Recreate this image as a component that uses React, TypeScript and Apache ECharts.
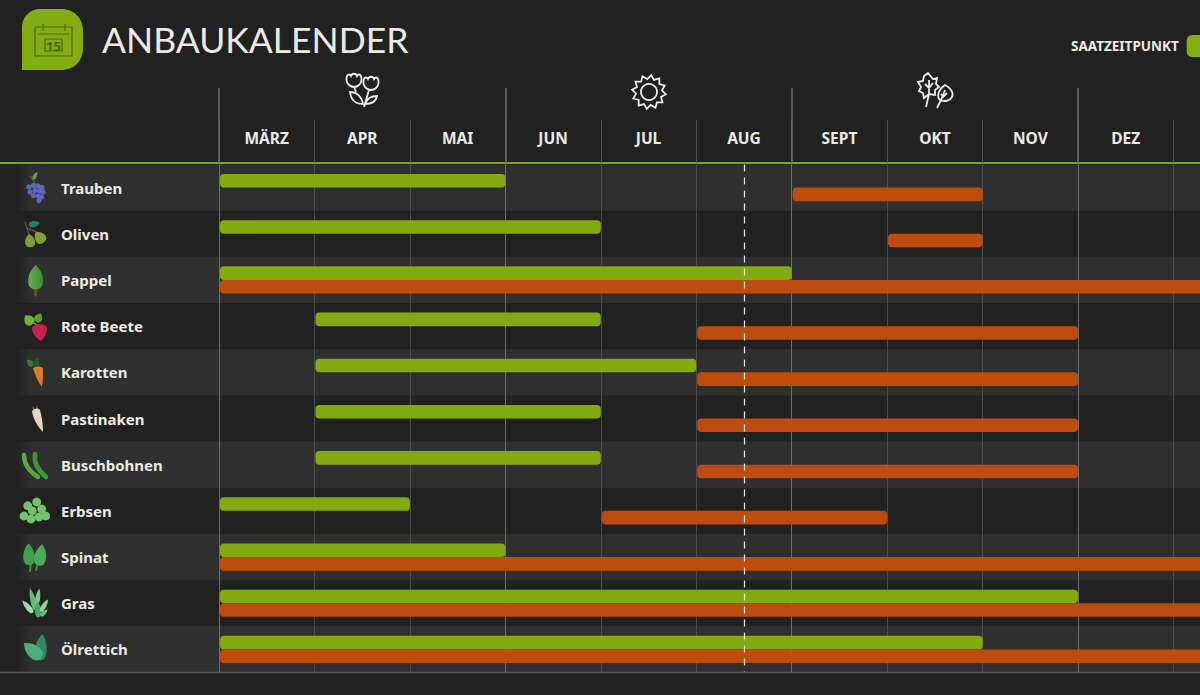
import React, { useEffect, useRef } from "react";
import * as echarts from "echarts";

const crops = ["Trauben","Oliven","Pappel","Rote Beete","Karotten","Pastinaken","Buschbohnen","Erbsen","Spinat","Gras","Ölrettich"];
const months = ["MÄRZ","APR","MAI","JUN","JUL","AUG","SEPT","OKT","NOV","DEZ","",""];
const seasons = ["Frühling","Sommer","Herbst","Winter"];
const sowStart = [0,0,0,1,1,1,1,0,0,0,0];
const sowEnd = [3,4,6,4,5,4,4,2,3,9,8];
const harvestStart = [6,7,0,5,5,5,5,4,0,0,0];
const harvestEnd = [8,8,12,9,9,9,9,7,12,12,12];
const todayMark = 5.5;

const GREEN = "#86ae10";
const ORANGE = "#c44d0e";
const BG = "#212121";
const STRIPE = "#2f2f2f";
const INK = "#ecebe3";
const FONT = "'Noto Sans', Lato, sans-serif";
const TITLE_FONT = "Lato, 'Noto Sans', sans-serif";

const path = (name: string, d: string) => echarts.graphic.registerShape(name, echarts.graphic.extendPath(d, {}));
path("leaf", "M0 -1 C0.75 -0.55 1 0.3 0.6 0.7 C0.35 0.95 -0.35 0.95 -0.6 0.7 C-1 0.3 -0.75 -0.55 0 -1 Z");
path("logoBlob", "M22 27 C22 17 30 9 40 9 L61 9 C74 9 83 18 83 31 L83 48 C83 61 74 70 61 70 L22 70 Z");
path("tulips", "M347 76 C348 74 350 74 351 76 C352 73 356 73 357 76 C358 74 360 74 361 76 C363 82 359 87 354 87 C349 87 345 82 347 76 Z M364 79 C365 77 367 77 368 79 C369 76 373 76 374 79 C375 77 377 77 378 79 C380 85 376 90 371 90 C366 90 362 85 364 79 Z M369 90 L364 107 M354 87 L356 92 M350 92 C357 92 362 97 363 104 C356 104 351 100 350 92 Z M377 96 C372 96 367 98 365 104 C371 104 376 102 377 96 Z");
path("foliage", "M928 73 L933 79 L937 78 L936 84 L939 87 L935 90 L935 95 L929 94 L924 98 L923 93 L919 91 L921 87 L918 82 L923 81 L924 76 Z M929 80 L929 94 M925 84 L929 88 L933 83 M929 94 L926 107 M945 85 C951 88 954 93 952 97 C950 101 944 102 940 100 C936 96 939 89 945 85 Z M945 90 L941 100 L937 108 M941 94 L943 97 L947 93");
path("calendar", "M35 27 L72 27 L72 56 L35 56 Z M38 34 L69 34 M43 24 L43 31 M65 24 L65 31 M45 39 L62 39 L62 51 L45 51 Z");
path("carrot", "M33 368 C36 366 41 366 43 368 C43 374 43 381 42 387 C38 382 35 375 33 368 Z");
path("parsnip", "M32 411 C35 408 38 408 40 410 C42 417 43 425 43 432 C38 427 33 419 32 411 Z");
path("beet", "M32 327 C36 323 43 323 47 327 C48 333 43 339 41 341 C37 339 31 333 32 327 Z");

const star = () => {
  const pts: number[][] = [];
  for (let i = 0; i < 24; i++) {
    const r = i % 2 ? 13 : 17;
    const a = (i / 24) * Math.PI * 2 + 0.13;
    pts.push([649 + r * Math.cos(a), 92 + r * Math.sin(a)]);
  }
  return pts;
};
const leaf = (x: number, y: number, w: number, h: number, rot: number, fill: any) => ({
  type: "leaf", x, y, scaleX: w / 2, scaleY: h / 2, rotation: rot, style: { fill },
});
const dot = (cx: number, cy: number, r: number, fill: string) => ({ type: "circle", shape: { cx, cy, r }, style: { fill } });
const seg = (x1: number, y1: number, x2: number, y2: number, stroke: string, lineWidth = 1.2) => ({
  type: "line", shape: { x1, y1, x2, y2 }, style: { stroke, lineWidth, lineCap: "round" },
});
const pod = (x1: number, y1: number, cx: number, cy: number, x2: number, y2: number, stroke: string) => ({
  type: "bezierCurve", shape: { x1, y1, cpx1: cx, cpy1: cy, x2, y2 }, style: { stroke, lineWidth: 4.5, fill: "none", lineCap: "round" },
});

const grapes = [[29,187],[33.5,185.5],[38,186],[42,187.5],[30,192],[35,190.5],[39.5,191],[43,192],[33.5,195.5],[38,196],[41.5,197],[39,200.5]];
const peas = [[36.7,502],[27.7,505.7],[41.7,509],[24,516],[45.7,516],[39,517],[31,519],[32.3,510.7]];

const icons: any[] = [
  seg(30, 176, 36, 184, "#7a5a35"),
  leaf(35, 176, 5, 9, -0.5, "#55a23a"),
  ...grapes.map(([x, y]) => dot(x, y, 2.7, "#5f66bb")),
  seg(25, 222, 30, 238, "#7a5a35"), seg(27, 228, 39, 233, "#7a5a35"),
  leaf(34, 224, 8, 12, -1.35, "#1f7f62"),
  leaf(30, 241, 13, 14, 0.15, "#7f9a36"), leaf(40, 237.5, 14, 14, 0.7, "#80a03a"),
  seg(35.7, 288, 35.7, 295, "#6d4c2f", 3),
  leaf(35.7, 278, 19, 26, 0, new echarts.graphic.LinearGradient(0, 0, 1, 0, [{ offset: 0, color: "#66ae53" }, { offset: 1, color: "#3f8a3c" }])),
  leaf(29, 320, 13, 12, 0.7, "#6fb335"), leaf(38.5, 318, 10, 10, -0.5, "#5ca02c"), seg(32, 322, 39, 326, "#7cb242"),
  { type: "beet", style: { fill: "#c6214f" } },
  leaf(30, 363, 7, 9, 0.8, "#3c7a3a"), leaf(36.5, 362, 7, 10, -0.3, "#24582b"),
  { type: "carrot", style: { fill: "#e0782a" } },
  seg(33, 407, 35, 412, "#4f7f3a"), seg(37, 406, 37, 411, "#4f7f3a"),
  { type: "parsnip", style: { fill: "#e2d6bf" } },
  pod(24, 455, 24, 468, 38, 477, "#58aa3e"), pod(35, 454, 33, 466, 46, 477, "#3f9438"),
  ...peas.map(([x, y]) => dot(x, y, 4.4, "#73c26d")),
  seg(31, 563, 30, 571, "#3b8f45", 2), seg(38, 563, 36, 570, "#3b8f45", 2),
  leaf(29, 555, 15, 23, 0.05, "#3f9f4c"), leaf(40.5, 555.5, 15, 23, -0.15, "#4bae55"),
  leaf(28, 607, 7, 17, 0.7, "#a3dba8"), leaf(33, 600, 7, 24, 0.25, "#66b873"), leaf(38, 597, 6, 17, -0.15, "#7fc88a"),
  leaf(38, 610, 8, 17, 0.05, "#4fa560"), leaf(44, 606, 6, 15, -0.55, "#8fd29a"), leaf(44, 613, 5, 10, -0.8, "#6fbf7e"),
  leaf(41, 648, 15, 28, -0.1, "#2d8a62"), leaf(33, 651, 17, 24, 0.85, "#4dae7d"),
];

const renderRange = (offset: number) => (_: any, api: any) => {
  const a = api.coord([api.value(1), api.value(0)]);
  const b = api.coord([api.value(2), api.value(0)]);
  const h = 13.6;
  return {
    type: "rect",
    shape: { x: a[0] + 1, y: a[1] + offset * h, width: b[0] - a[0] - 1, height: h, r: 4 },
    style: { fill: api.visual("color"), opacity: 0.97 },
  };
};

const outline = { fill: "none", stroke: "#ecebe3", lineWidth: 1.8 };

export default function App() {
  const ref = useRef<HTMLDivElement>(null);
  useEffect(() => {
    document.body.style.margin = "0";
    document.body.style.background = BG;
    const chart = echarts.init(ref.current!, null, { renderer: "svg" });
    const rows = crops.map((_, i) => i);
    const decorations: any[] = [
      { type: "logoBlob", style: { fill: "#84ac14" } },
      { type: "calendar", style: { fill: "none", stroke: "#4d6a10", lineWidth: 1.2 } },
      { type: "text", x: 53.5, y: 45.5, style: { text: "15", fill: "#4d6a10", fontSize: 13, fontWeight: 700, fontFamily: FONT, align: "center", verticalAlign: "middle" } },
      { type: "tulips", style: outline },
      { type: "polygon", shape: { points: star() }, style: outline },
      { type: "circle", shape: { cx: 649, cy: 92, r: 8 }, style: outline },
      { type: "foliage", style: outline },
      { type: "line", shape: { x1: 0, y1: 163, x2: 219, y2: 163 }, style: { stroke: "#7fa51e", lineWidth: 2 } },
      { type: "line", shape: { x1: 0, y1: 672.5, x2: 1200, y2: 672.5 }, style: { stroke: "#5a5a5a", lineWidth: 1.5 } },
      ...icons,
    ];
    chart.setOption({
      animation: false,
      backgroundColor: BG,
      title: {
        text: "ANBAUKALENDER", left: 97, top: 16,
        textStyle: { color: INK, fontSize: 35.5, fontWeight: 400, fontFamily: TITLE_FONT },
      },
      legend: {
        data: ["SAATZEITPUNKT"], left: 1066, top: 30, align: "right", icon: "roundRect",
        itemWidth: 40, itemHeight: 22, selectedMode: false,
        textStyle: { color: INK, fontSize: 13.5, fontWeight: 700, fontFamily: FONT, padding: [0, 3, 0, 0] },
      },
      grid: [
        { left: 219, top: 164.5, width: 1145.4, height: 508, outerBoundsMode: "none" },
        { left: 219, top: 88, width: 1145.4, height: 75, outerBoundsMode: "none" },
      ],
      xAxis: [
        {
          type: "value", min: 0, max: 12, interval: 1, position: "bottom", z: 2,
          axisLabel: { show: false }, axisLine: { show: false }, axisTick: { show: false },
          splitLine: { show: true, lineStyle: { color: ["#6e6e6e", "#4c4c4c", "#4c4c4c"], width: 1 } },
        },
        {
          type: "category", data: months, position: "top", z: 2, offset: 1.5,
          axisLine: { show: true, onZero: false, lineStyle: { color: "#7fa51e", width: 2 } },
          axisTick: { show: true, length: 43, interval: 0, lineStyle: { color: "#525252", width: 1 } },
          axisLabel: { interval: 0, color: INK, fontSize: 15.5, fontWeight: 700, fontFamily: FONT, margin: 17 },
          splitLine: { show: false },
        },
        {
          type: "category", gridIndex: 1, data: seasons, position: "bottom", z: 2,
          axisLine: { show: false },
          axisTick: { show: true, inside: true, length: 75, interval: 0, lineStyle: { color: "#6e6e6e", width: 1.5 } },
          axisLabel: { show: false }, splitLine: { show: false },
        },
      ],
      yAxis: [
        {
          type: "category", data: crops, inverse: true, z: 2,
          axisLine: { show: false }, axisTick: { show: false }, splitLine: { show: false },
          axisLabel: { align: "left", margin: 158, color: INK, fontSize: 15, fontWeight: 700, fontFamily: FONT },
        },
        { type: "value", gridIndex: 1, show: false },
      ],
      series: [
        {
          type: "custom", name: "Zeilen", z: 1, silent: true,
          data: rows.map((i) => [i, 0]),
          encode: { y: 0, x: 1 },
          renderItem: (_: any, api: any) => {
            const i = api.value(0);
            if (i % 2) return null;
            const c = api.coord([0, i]);
            const h = api.size([0, 1])[1];
            return {
              type: "rect",
              shape: { x: 14, y: c[1] - h / 2, width: 1186, height: h },
              style: {
                fill: new echarts.graphic.LinearGradient(0, 0, 1, 0, [
                  { offset: 0, color: BG }, { offset: 0.015, color: STRIPE }, { offset: 1, color: STRIPE },
                ]),
              },
            };
          },
        },
        {
          type: "custom", name: "SAATZEITPUNKT", z: 3, silent: true,
          itemStyle: { color: GREEN },
          data: rows.map((i) => [i, sowStart[i], sowEnd[i]]),
          encode: { y: 0, x: [1, 2] },
          renderItem: renderRange(-1),
        },
        {
          type: "custom", name: "ERNTEZEITPUNKT", z: 3, silent: true,
          itemStyle: { color: ORANGE },
          data: rows.map((i) => [i, harvestStart[i], harvestEnd[i]]),
          encode: { y: 0, x: [1, 2] },
          renderItem: renderRange(0),
          markLine: {
            silent: true, symbol: "none", label: { show: false }, animation: false,
            lineStyle: { color: "#e6e6e6", type: [7, 6], width: 1.2 },
            data: [{ xAxis: todayMark }],
          },
        },
      ],
      graphic: decorations.map((d) => ({ ...d, silent: true, z: 10 })),
    });
    return () => chart.dispose();
  }, []);
  return <div ref={ref} style={{ width: 1200, height: 695 }} />;
}
